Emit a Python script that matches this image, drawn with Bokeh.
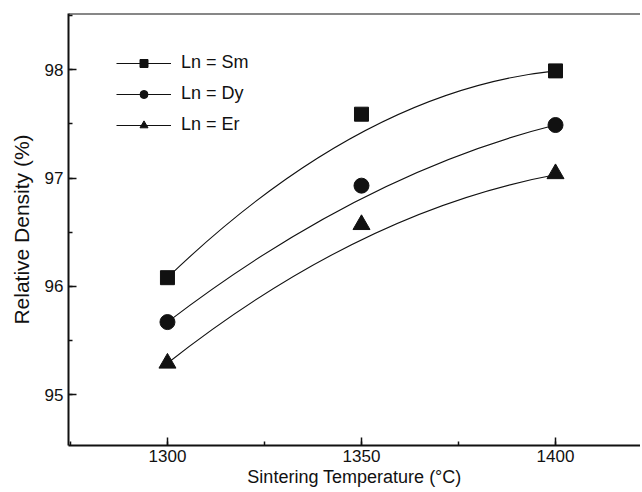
from bokeh.plotting import figure
from bokeh.models import Range1d, SingleIntervalTicker, Legend, LegendItem, Span
from bokeh.embed import file_html
from bokeh.resources import INLINE

# ---- data ----
temps = [1300, 1350, 1400]
sm = [96.08, 97.59, 97.99]
dy = [95.67, 96.93, 97.49]
er = [95.29, 96.57, 97.04]
# smooth fitted curves: value at start, middle and end temperature
sm_fit = [96.08, 97.42, 97.99]
dy_fit = [95.67, 96.81, 97.49]
er_fit = [95.29, 96.43, 97.03]
labels = ["Ln = Sm", "Ln = Dy", "Ln = Er"]
markers = ["square", "circle", "triangle"]
x_title = "Sintering Temperature (°C)"
y_title = "Relative Density (%)"

FONT = "Liberation Sans"
INK = "#111111"
Y_TOP = 98.52

p = figure(width=640, height=490, output_backend="svg", toolbar_location=None,
           x_range=Range1d(1274.5, 1421.9), y_range=Range1d(94.53, Y_TOP),
           min_border_left=68, min_border_top=13, min_border_right=0,
           min_border_bottom=45)
p.outline_line_color = None
p.grid.visible = False
p.background_fill_color = "white"

for ax, tk in ((p.xaxis[0], SingleIntervalTicker(interval=50, num_minor_ticks=2)),
               (p.yaxis[0], SingleIntervalTicker(interval=1, num_minor_ticks=2))):
    ax.ticker = tk
    ax.axis_line_width = 2
    ax.axis_line_color = INK
    ax.major_tick_in = 8
    ax.major_tick_out = 0
    ax.minor_tick_in = 4
    ax.minor_tick_out = 0
    ax.major_tick_line_width = 1.5
    ax.minor_tick_line_width = 1.5
    ax.major_tick_line_color = INK
    ax.minor_tick_line_color = INK
    ax.major_label_text_font = FONT
    ax.major_label_text_font_size = "17px"
    ax.major_label_text_color = INK
    ax.axis_label_text_font = FONT
    ax.axis_label_text_font_style = "normal"
    ax.axis_label_text_color = INK

p.xaxis.axis_label = x_title
p.yaxis.axis_label = y_title
p.xaxis.axis_label_text_font_size = "18px"
p.yaxis.axis_label_text_font_size = "21px"
p.xaxis.major_label_standoff = 4
p.xaxis.axis_label_standoff = 2
p.yaxis.major_label_standoff = 5
p.yaxis.axis_label_standoff = 9

# top frame line
p.add_layout(Span(location=Y_TOP, dimension="width", line_color=INK, line_width=2))

items = []
for vals, fit, lab, mk, sz in ((sm, sm_fit, labels[0], markers[0], 14),
                               (dy, dy_fit, labels[1], markers[1], 15),
                               (er, er_fit, labels[2], markers[2], 17)):
    cy = (4 * fit[1] - fit[0] - fit[2]) / 2.0
    q = p.quadratic(x0=[temps[0]], y0=[fit[0]], x1=[temps[2]], y1=[fit[2]],
                    cx=[temps[1]], cy=[cy], line_color=INK, line_width=1.1)
    s = p.scatter(temps, vals, marker=mk, size=sz, fill_color=INK, line_color=INK)
    items.append(LegendItem(label=lab, renderers=[q, s]))

legend = Legend(items=items, location=(48, 310), glyph_width=55, glyph_height=20,
                label_height=20, spacing=10, padding=0, margin=0, label_standoff=10,
                label_text_font=FONT, label_text_font_size="18px",
                label_text_color=INK, background_fill_alpha=0,
                border_line_color=None)
p.add_layout(legend)

open("out.html", "w").write(file_html(p, INLINE))
